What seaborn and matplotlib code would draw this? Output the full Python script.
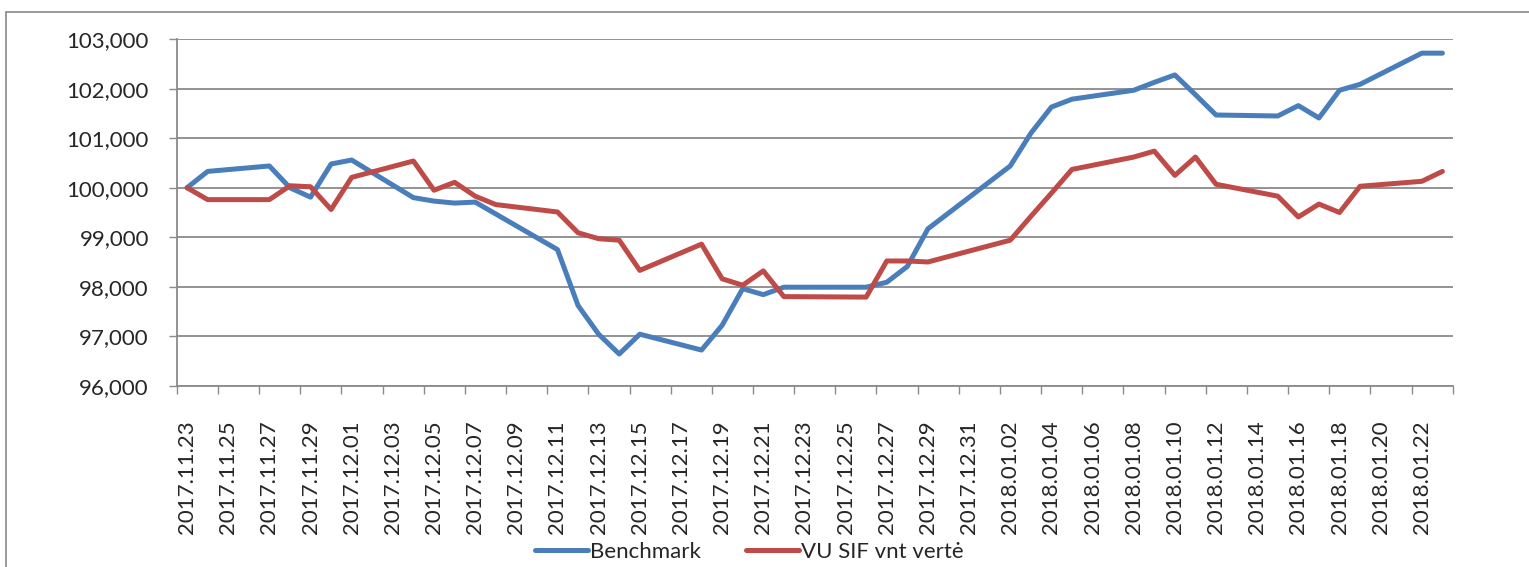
import numpy as np
import pandas as pd
import matplotlib
matplotlib.use("Agg")
import matplotlib.pyplot as plt
import seaborn as sns
from matplotlib.lines import Line2D
from matplotlib.ticker import FixedLocator, FuncFormatter

# ── data ──────────────────────────────────────────────────────────────────────
DATES = ["2017-11-23", "2017-11-24", "2017-11-27", "2017-11-28", "2017-11-29",
         "2017-11-30", "2017-12-01", "2017-12-04", "2017-12-05", "2017-12-06",
         "2017-12-07", "2017-12-08", "2017-12-11", "2017-12-12", "2017-12-13",
         "2017-12-14", "2017-12-15", "2017-12-18", "2017-12-19", "2017-12-20",
         "2017-12-21", "2017-12-22", "2017-12-26", "2017-12-27", "2017-12-28",
         "2017-12-29", "2018-01-02", "2018-01-03", "2018-01-04", "2018-01-05",
         "2018-01-08", "2018-01-09", "2018-01-10", "2018-01-11", "2018-01-12",
         "2018-01-15", "2018-01-16", "2018-01-17", "2018-01-18", "2018-01-19",
         "2018-01-22", "2018-01-23"]

BENCHMARK = [100.00, 100.33, 100.44, 100.00, 99.81, 100.48, 100.56, 99.80, 99.73, 99.69,
             99.71, 99.47, 98.75, 97.62, 97.04, 96.64, 97.04, 96.72, 97.22, 97.96,
             97.84, 97.99, 97.99, 98.09, 98.41, 99.17, 100.44, 101.10, 101.63, 101.79,
             101.97, 102.13, 102.28, 101.88, 101.47, 101.45, 101.66, 101.41, 101.97, 102.09,
             102.72, 102.72]

VU_SIF = [100.00, 99.76, 99.76, 100.04, 100.02, 99.56, 100.21, 100.54, 99.95, 100.11,
          99.83, 99.66, 99.51, 99.09, 98.97, 98.94, 98.33, 98.86, 98.16, 98.03,
          98.32, 97.80, 97.79, 98.52, 98.52, 98.50, 98.94, 99.42, 99.89, 100.37,
          100.62, 100.74, 100.25, 100.62, 100.07, 99.83, 99.41, 99.67, 99.50, 100.03,
          100.13, 100.33]

SERIES_NAMES = ["Benchmark", "VU SIF vnt vertė"]
COLORS = ["#4A7EBB", "#BE4B48"]
Y_TICKS = [96, 97, 98, 99, 100, 101, 102, 103]

# ── frame ─────────────────────────────────────────────────────────────────────
dates = pd.to_datetime(DATES)
start = pd.Timestamp("2017-11-23")
end = pd.Timestamp("2018-01-23")
days = (dates - start).days

df = pd.DataFrame({
    "day": np.concatenate([days, days]),
    "value": BENCHMARK + VU_SIF,
    "series": [SERIES_NAMES[0]] * len(DATES) + [SERIES_NAMES[1]] * len(DATES),
})

sns.set_style("white")
plt.rcParams["font.family"] = ["Lato", "DejaVu Sans"]

fig = plt.figure(figsize=(15.29, 5.67), dpi=100)
ax = fig.add_axes([0.1156, 0.3198, 0.8345, 0.6109])

sns.lineplot(data=df, x="day", y="value", hue="series", palette=COLORS,
             hue_order=SERIES_NAMES, linewidth=3.6, ax=ax, legend=False,
             solid_capstyle="round", solid_joinstyle="round")

GRID = "#8a8a8a"
n_days = (end - start).days + 1
ax.set_xlim(-0.5, n_days - 0.5)
ax.set_ylim(96, 103)

# y axis
ax.set_yticks(Y_TICKS)
ax.yaxis.set_major_formatter(FuncFormatter(lambda v, _: f"{v:.3f}".replace(".", ",")))
ax.yaxis.grid(True, color=GRID, linewidth=1.3)
ax.tick_params(axis="y", length=6, width=1, color=GRID, pad=14, labelsize=16, left=True)

# x axis: labels every second day, tick marks between categories
label_days = np.arange(0, n_days, 2)
label_txt = [(start + pd.Timedelta(days=int(d))).strftime("%Y.%m.%d") for d in label_days]
ax.xaxis.set_major_locator(FixedLocator(label_days))
ax.set_xticklabels(label_txt, rotation=90, fontsize=16)
ax.xaxis.set_minor_locator(FixedLocator(np.arange(-0.5, n_days, 2)))
ax.tick_params(axis="x", which="major", length=0, pad=25, bottom=False)
ax.tick_params(axis="x", which="minor", length=6, width=1, color=GRID, bottom=True)

ax.set_xlabel("")
ax.set_ylabel("")
for side in ["top", "right"]:
    ax.spines[side].set_visible(False)
for side in ["left", "bottom"]:
    ax.spines[side].set_color(GRID)
    ax.spines[side].set_linewidth(1.3)

handles = [Line2D([], [], color=c, linewidth=3.6) for c in COLORS]
fig.legend(handles, SERIES_NAMES, loc="center", bbox_to_anchor=(0.49, 0.027),
           ncol=2, frameon=False, fontsize=16, handlelength=2.4,
           handletextpad=0.1, columnspacing=2.0)

# outer chart border (cropped on right and bottom)
bx = 6 / 1529
by = 1 - 12 / 567
fig.add_artist(Line2D([bx, bx], [0, by], color=GRID, linewidth=1.2))
fig.add_artist(Line2D([bx, 1], [by, by], color=GRID, linewidth=1.2))

fig.savefig("out.png", dpi=100)
plt.close(fig)
